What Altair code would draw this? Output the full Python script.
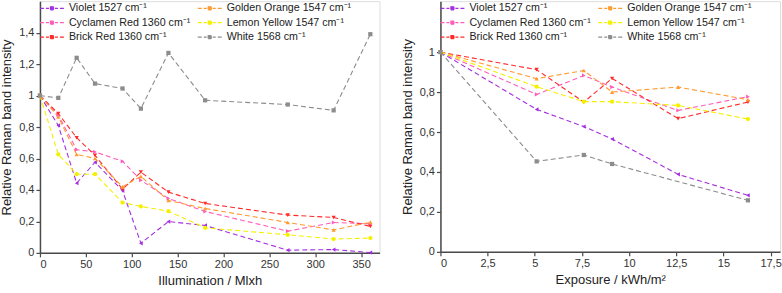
import altair as alt
import pandas as pd

series = ["Violet 1527 cm⁻¹", "Cyclamen Red 1360 cm⁻¹", "Brick Red 1360 cm⁻¹",
          "Golden Orange 1547 cm⁻¹", "Lemon Yellow 1547 cm⁻¹", "White 1568 cm⁻¹"]
colors = ["#a52fe0", "#ff5cb8", "#ff2a2a", "#ff9a30", "#f5f000", "#8c8c8c"]
shapes = ["triangle-left", "triangle-right", "triangle-down", "triangle-up", "circle", "square"]

# Left panel: illumination (Mlxh)
illum_x = [0, 20, 40, 60, 90, 110, 140, 180, 270, 320, 360]
illum_violet = [1.0, 0.81, 0.443, 0.576, 0.395, 0.061, 0.199, 0.174, 0.017, 0.021, 0.002]
illum_cyclamen = [1.0, 0.876, 0.656, 0.642, 0.582, 0.462, 0.346, 0.263, 0.138, 0.193, 0.185]
illum_brick = [1.0, 0.886, 0.732, 0.62, 0.405, 0.513, 0.386, 0.314, 0.24, 0.225, 0.168]
illum_orange = [1.0, 0.864, 0.626, 0.60, 0.42, 0.486, 0.333, 0.282, 0.193, 0.146, 0.195]
illum_lemon = [1.0, 0.626, 0.50, 0.50, 0.32, 0.295, 0.265, 0.159, 0.115, 0.088, 0.094]
illum_white = [1.0, 0.985, 1.24, 1.076, 1.045, 0.917, 1.271, 0.97, 0.943, 0.906, 1.39]

# Right panel: exposure (kWh/m2)
expo_x = [0, 5.1, 7.6, 9.1, 12.6, 16.3]
expo_violet = [1.0, 0.713, 0.627, 0.565, 0.388, 0.283]
expo_cyclamen = [1.0, 0.788, 0.883, 0.825, 0.708, 0.777]
expo_brick = [1.0, 0.912, 0.75, 0.868, 0.667, 0.75]
expo_orange = [1.0, 0.867, 0.908, 0.80, 0.825, 0.762]
expo_lemon = [1.0, 0.827, 0.752, 0.752, 0.733, 0.665]
expo_white_x = [0, 5.1, 7.6, 9.1, 16.3]
expo_white = [1.0, 0.453, 0.485, 0.44, 0.258]


def frame(xs_list, ys_list):
    rows = []
    for name, xs, ys in zip(series, xs_list, ys_list):
        for xv, yv in zip(xs, ys):
            rows.append({"series": name, "x": xv, "y": yv})
    return pd.DataFrame(rows)


left_df = frame([illum_x] * 6,
                [illum_violet, illum_cyclamen, illum_brick, illum_orange, illum_lemon, illum_white])
right_df = frame([expo_x] * 5 + [expo_white_x],
                 [expo_violet, expo_cyclamen, expo_brick, expo_orange, expo_lemon, expo_white])

FONT = "Liberation Sans"
comma = "replace(datum.label, '.', ',')"
# dashed stroke with a small marker, drawn to the right of the nominal symbol box
sym_path = ("M-1,0H-0.2M0.2,0H0.8M2,0H2.6M3,0H3.8"
            "M1.1,-0.3H1.7V0.3H1.1Z")


def axis(title, values, fmt):
    return alt.Axis(title=title, values=values, format=fmt, labelExpr=comma, grid=False,
                    domainColor="#4a4a4a", domainWidth=1.5, tickColor="#4a4a4a", tickWidth=1.2,
                    tickSize=4, labelFont=FONT, labelFontSize=11, labelColor="#333333",
                    titleFont=FONT, titleFontSize=13, titleFontWeight="normal",
                    titleColor="#222222", labelPadding=2, titlePadding=5)


def panel(df, xtitle, xdomain, xvals, ydomain, yvals, w, h):
    x = alt.X("x:Q", scale=alt.Scale(domain=xdomain, nice=False, zero=False),
              axis=axis(xtitle, xvals, ".1~f"))
    y = alt.Y("y:Q", scale=alt.Scale(domain=ydomain, nice=False),
              axis=axis("Relative Raman band intensity", yvals, ".1~f"))
    cscale = alt.Scale(domain=series, range=colors)
    line = alt.Chart(df).mark_line(strokeDash=[5, 3], strokeWidth=1.1).encode(
        x=x, y=y,
        color=alt.Color("series:N", scale=cscale, sort=series,
                        legend=alt.Legend(orient="none", legendX=-1, legendY=1, columns=2,
                                          title=None, symbolType=sym_path, symbolSize=100,
                                          symbolStrokeWidth=1.2, symbolDash=[1, 0],
                                          labelFont=FONT,
                                          labelFontSize=10.7, labelColor="#222222",
                                          rowPadding=3.5, columnPadding=4, labelOffset=18,
                                          symbolOffset=0, padding=0, labelLimit=300)),
    )
    pts = alt.Chart(df).mark_point(filled=True, size=18, opacity=1).encode(
        x=x, y=y,
        color=alt.Color("series:N", scale=cscale, legend=None),
        shape=alt.Shape("series:N", scale=alt.Scale(domain=series, range=shapes), legend=None),
    )
    return alt.layer(line, pts).properties(width=w, height=h)


left = panel(left_df, "Illumination / Mlxh", [0, 370], [0, 50, 100, 150, 200, 250, 300, 350],
             [0, 1.6], [0, 0.2, 0.4, 0.6, 0.8, 1.0, 1.2, 1.4], 340, 252)
right = panel(right_df, "Exposure / kWh/m²", [0, 18], [0, 2.5, 5, 7.5, 10, 12.5, 15, 17.5],
              [0, 1.255], [0, 0.2, 0.4, 0.6, 0.8, 1.0], 340, 251)

chart = alt.hconcat(left, right, spacing=20).resolve_legend(color="independent").properties(
    padding={"left": 0, "top": 0, "right": 0, "bottom": 0}
).configure_view(stroke=None).configure(background="white")

chart.save("out.html", embed_options={"renderer": "svg", "actions": False})
